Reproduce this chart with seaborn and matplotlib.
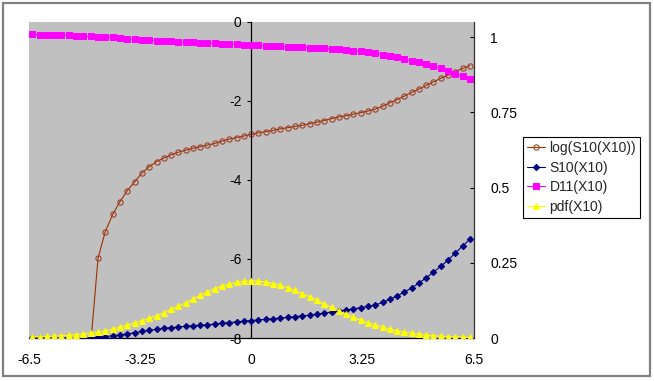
import matplotlib
matplotlib.use("Agg")
import matplotlib.pyplot as plt
import seaborn as sns
from matplotlib.patches import Rectangle

# sampling grid (x values of the series)
x_vals = [-6.4, -6.19, -5.97, -5.76, -5.55, -5.33, -5.12, -4.91, -4.69, -4.48,
          -4.27, -4.05, -3.84, -3.63, -3.41, -3.2, -2.99, -2.77, -2.56, -2.35,
          -2.13, -1.92, -1.71, -1.49, -1.28, -1.07, -0.85, -0.64, -0.43, -0.21,
          0.0, 0.21, 0.43, 0.64, 0.85, 1.07, 1.28, 1.49, 1.71, 1.92,
          2.13, 2.35, 2.56, 2.77, 2.99, 3.2, 3.41, 3.63, 3.84, 4.05,
          4.27, 4.48, 4.69, 4.91, 5.12, 5.33, 5.55, 5.76, 5.97, 6.19, 6.4]

# left axis series
log_s10 = [-16.0, -15.0, -14.0, -13.0, -12.0, -11.0, -10.0, -9.0, -8.1, -5.98,
           -5.31, -4.87, -4.55, -4.28, -4.05, -3.83, -3.67, -3.54, -3.45, -3.37,
           -3.30, -3.25, -3.20, -3.16, -3.12, -3.08, -3.02, -2.97, -2.93, -2.89,
           -2.85, -2.81, -2.78, -2.75, -2.71, -2.68, -2.65, -2.62, -2.58, -2.54,
           -2.50, -2.45, -2.41, -2.38, -2.34, -2.30, -2.26, -2.21, -2.14, -2.05,
           -1.97, -1.88, -1.79, -1.70, -1.61, -1.52, -1.43, -1.35, -1.26, -1.18, -1.11]

# right axis series
s10 = [0.0, 0.0, 0.0, 0.0, 0.0, 0.0, 0.0, 0.0, 0.0003, 0.0025,
       0.0049, 0.0077, 0.0106, 0.0138, 0.0174, 0.0217, 0.0255, 0.029, 0.0318, 0.0344,
       0.0369, 0.0388, 0.0408, 0.0424, 0.0442, 0.046, 0.0488, 0.0513, 0.0534, 0.0556,
       0.058, 0.060, 0.062, 0.064, 0.066, 0.069, 0.071, 0.073, 0.076, 0.079,
       0.082, 0.086, 0.090, 0.093, 0.097, 0.101, 0.105, 0.110, 0.118, 0.129,
       0.140, 0.153, 0.166, 0.183, 0.200, 0.219, 0.239, 0.259, 0.283, 0.306, 0.329]

d11 = [1.009, 1.008, 1.008, 1.007, 1.007, 1.006, 1.004, 1.003, 1.002, 1.001,
       1.000, 0.999, 0.997, 0.994, 0.993, 0.991, 0.990, 0.988, 0.987, 0.986,
       0.984, 0.983, 0.982, 0.981, 0.980, 0.979, 0.978, 0.977, 0.976, 0.975,
       0.973, 0.972, 0.971, 0.970, 0.969, 0.968, 0.967, 0.966, 0.965, 0.964,
       0.962, 0.961, 0.960, 0.958, 0.955, 0.952, 0.950, 0.947, 0.942, 0.938,
       0.934, 0.927, 0.921, 0.916, 0.910, 0.903, 0.896, 0.886, 0.878, 0.869, 0.859]

pdf = [0.004, 0.004, 0.005, 0.006, 0.0075, 0.009, 0.011, 0.013, 0.016, 0.019,
       0.024, 0.029, 0.036, 0.043, 0.050, 0.057, 0.065, 0.074, 0.084, 0.095,
       0.106, 0.117, 0.129, 0.142, 0.154, 0.164, 0.173, 0.179, 0.185, 0.188,
       0.190, 0.189, 0.186, 0.181, 0.175, 0.167, 0.158, 0.147, 0.137, 0.125,
       0.113, 0.102, 0.090, 0.079, 0.069, 0.059, 0.051, 0.043, 0.036, 0.029,
       0.024, 0.019, 0.016, 0.012, 0.0097, 0.0076, 0.0058, 0.0044, 0.0033, 0.0025, 0.0018]

x_ticks = [-6.5, -3.25, 0, 3.25, 6.5]
x_labels = ["-6.5", "-3.25", "0", "3.25", "6.5"]
left_ticks = [-8, -6, -4, -2, 0]
left_labels = ["-8", "-6", "-4", "-2", "0"]
right_ticks = [0, 0.25, 0.5, 0.75, 1]
right_labels = ["0", "0.25", "0.5", "0.75", "1"]

series_names = ["log(S10(X10))", "S10(X10)", "D11(X10)", "pdf(X10)"]

sns.set_style("white")
plt.rcParams["font.family"] = ["Liberation Sans", "DejaVu Sans"]

W, H = 654, 381
fig = plt.figure(figsize=(W / 100, H / 100), dpi=100)
ax = fig.add_axes([29 / W, 43 / H, (473.5 - 29) / W, (338 - 21.7) / H])
ax.set_facecolor("#C0C0C0")

sns.lineplot(x=x_vals, y=log_s10, ax=ax, color="#993300", linewidth=0.8,
             marker="o", markersize=3.8, markerfacecolor="none",
             markeredgecolor="#A0402A", markeredgewidth=0.8,
             label=series_names[0], legend=False)
ax.set_xlim(-6.5, 6.5)
ax.set_ylim(-8, 0)

ax2 = ax.twinx()
sns.lineplot(x=x_vals, y=s10, ax=ax2, color="#000080", linewidth=0.8,
             marker="D", markersize=3.2, markeredgecolor="#000080",
             label=series_names[1], legend=False)
sns.lineplot(x=x_vals, y=d11, ax=ax2, color="#FF00FF", linewidth=0.8,
             marker="s", markersize=4.2, markeredgecolor="#FF00FF",
             label=series_names[2], legend=False)
sns.lineplot(x=x_vals, y=pdf, ax=ax2, color="#FFFF00", linewidth=0.8,
             marker="^", markersize=5, markeredgecolor="#FFFF00",
             label=series_names[3], legend=False)
ax2.set_ylim(0, 1.051)
ax2.set_xlim(-6.5, 6.5)

# axes styling, Excel-like
ax.spines["left"].set_position(("data", 0))
ax.spines["top"].set_visible(False)
ax.spines["right"].set_visible(False)
for s in ["left", "bottom"]:
    ax.spines[s].set_color("black")
    ax.spines[s].set_linewidth(0.9)
for s in ["left", "top", "bottom"]:
    ax2.spines[s].set_visible(False)
ax2.spines["right"].set_color("#333333")
ax2.spines["right"].set_linewidth(0.9)

ax.set_xticks(x_ticks)
ax.set_xticklabels(x_labels)
ax.set_yticks(left_ticks)
ax.set_yticklabels(left_labels)
ax2.set_yticks(right_ticks)
ax2.set_yticklabels(right_labels)

ax.tick_params(axis="x", direction="out", length=3, width=0.8, pad=8,
               labelsize=10, colors="black")
ax.tick_params(axis="y", direction="out", length=3, width=0.8, pad=4,
               labelsize=10, colors="black")
ax2.tick_params(axis="y", direction="in", length=3, width=0.8, pad=12,
                labelsize=10, colors="black")
ax.set_xlabel("")
ax.set_ylabel("")
ax2.set_ylabel("")
ax.grid(False)
ax2.grid(False)

h1, l1 = ax.get_legend_handles_labels()
h2, l2 = ax2.get_legend_handles_labels()
leg = fig.legend(h1 + h2, l1 + l2, loc="upper left",
                 bbox_to_anchor=(523 / W, 1 - 137 / H), borderaxespad=0,
                 frameon=True, fancybox=False, framealpha=1, edgecolor="black",
                 fontsize=10, handlelength=1.3, handletextpad=0.3,
                 borderpad=0.3, labelspacing=0.4, numpoints=1)
leg.get_frame().set_linewidth(0.8)

# outer chart frame
fig.patches.append(Rectangle((3 / W, 5 / H), 647 / W, 373 / H,
                             transform=fig.transFigure, fill=False,
                             edgecolor="#808080", linewidth=1.6))

fig.savefig("out.png", dpi=100)
